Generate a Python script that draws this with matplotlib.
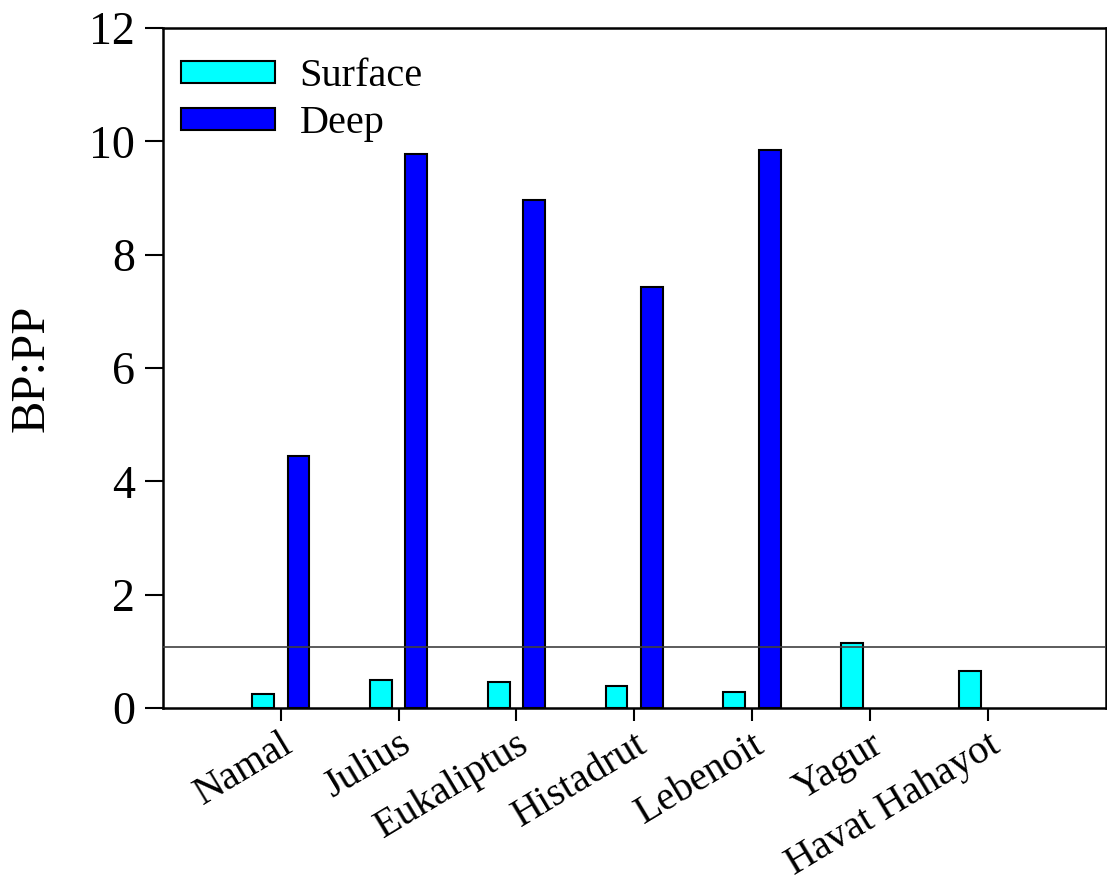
import numpy as np
import matplotlib
matplotlib.use("Agg")
import matplotlib.pyplot as plt

# Sites and BP:PP ratios
sites = ["Namal", "Julius", "Eukaliptus", "Histadrut", "Lebenoit", "Yagur", "Havat Hahayot"]
surface = [0.24, 0.49, 0.46, 0.39, 0.28, 1.14, 0.65]
deep = [4.45, 9.78, 8.97, 7.43, 9.85, np.nan, np.nan]
reference_level = 1.08
y_ticks = [0, 2, 4, 6, 8, 10, 12]

plt.rcParams["font.family"] = ["Liberation Serif", "DejaVu Serif"]

fig = plt.figure(figsize=(11.07, 8.89), dpi=100)
ax = fig.add_axes([163 / 1107, 1 - 708 / 889, (1105.5 - 163) / 1107, (708 - 28) / 889])

x = np.arange(len(sites))
width = 0.185
offset = 0.15

ax.bar(x - offset, surface, width, color="#00FFFF", edgecolor="black",
       linewidth=1.5, label="Surface", zorder=2)
ax.bar(x + offset, deep, width, color="#0000FF", edgecolor="black",
       linewidth=1.5, label="Deep", zorder=2)

ax.axhline(reference_level, color="#404040", linewidth=1.2, zorder=3)

ax.set_xlim(-1, 7)
ax.set_ylim(0, 12)
ax.set_yticks(y_ticks)
ax.set_yticklabels([str(v) for v in y_ticks])
ax.set_xticks(x)
ax.set_xticklabels(sites, rotation=31, ha="right", va="top",
                   rotation_mode="anchor")

ax.tick_params(axis="y", direction="out", length=13, width=1.5,
               labelsize=33, pad=7)
ax.tick_params(axis="x", direction="out", length=9, width=1.5,
               labelsize=29, pad=4)

for s in ax.spines.values():
    s.set_linewidth(1.8)
    s.set_color("black")

ax.set_ylabel("BP:PP", fontsize=35, labelpad=26)

leg = ax.legend(loc="upper left", fontsize=29, frameon=False,
                handlelength=2.35, handleheight=0.48, handletextpad=0.6,
                labelspacing=0.25, borderaxespad=0.3,
                bbox_to_anchor=(-0.011, 0.997))
for h in leg.legend_handles:
    h.set_linewidth(1.5)

fig.savefig("out.png", dpi=100)
